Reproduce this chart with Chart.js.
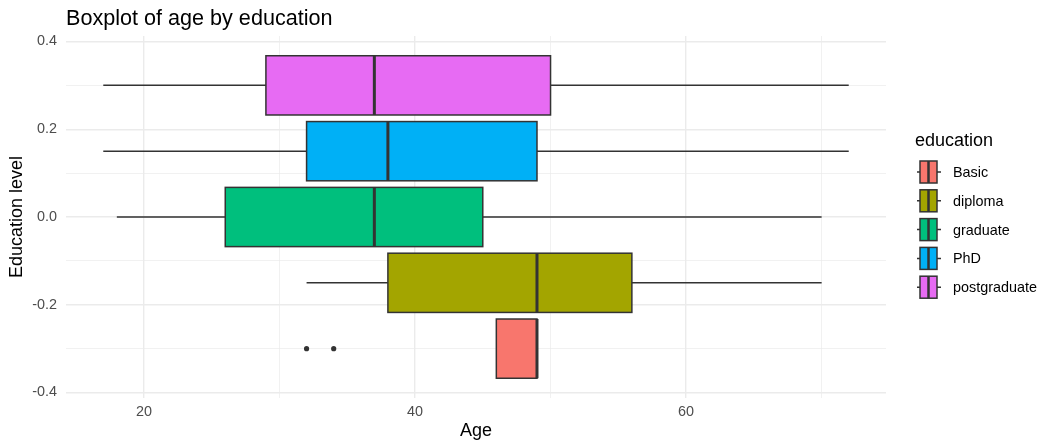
<!DOCTYPE html>
<html>
<head>
<meta charset="utf-8">
<script src="https://cdn.jsdelivr.net/npm/chart.js@4.4.1/dist/chart.umd.min.js"></script>
<style>
  html, body { margin: 0; padding: 0; background: #ffffff; }
  #wrap { width: 1044px; height: 442px; position: relative; }
</style>
</head>
<body>
<div id="wrap"><canvas id="boxChart"></canvas></div>
<script>
// data
var groups = ['Basic', 'diploma', 'graduate', 'PhD', 'postgraduate'];
var groupPos = [-0.3, -0.15, 0, 0.15, 0.3];
var whiskerLow = [46, 32, 18, 17, 17];
var q1 = [46, 38, 26, 32, 29];
var medians = [49, 49, 37, 38, 37];
var q3 = [49, 56, 45, 49, 50];
var whiskerHigh = [49, 70, 70, 72, 72];
var outlierAges = [32, 34];
var outlierGroups = ['Basic', 'Basic'];
var groupColors = ['#F8766D', '#A3A500', '#00BF7D', '#00B0F6', '#E76BF3'];

var xMajor = [20, 40, 60];
var xMinor = [30, 50, 70];
var yMajor = [-0.4, -0.2, 0, 0.2, 0.4];
var yMinor = [-0.3, -0.1, 0.1, 0.3];

var boxHalf = 0.0675; // half height of a box in y units
var FONT = "'Liberation Sans', Arial, sans-serif";
var DARK = '#333333';
var GRID = '#ebebeb';

function isIn(list, v) {
  for (var i = 0; i < list.length; i++) {
    if (Math.abs(list[i] - v) < 1e-9) return true;
  }
  return false;
}

function setTicks(major, minor) {
  return function (scale) {
    scale.ticks = major.concat(minor).sort(function (a, b) { return a - b; })
      .map(function (v) { return { value: v }; });
  };
}

// boxes and whiskers, drawn through the scales
var boxPlugin = {
  id: 'boxes',
  beforeDatasetsDraw: function (chart) {
    var ctx = chart.ctx;
    var xs = chart.scales.x, ys = chart.scales.y;
    var area = chart.chartArea;
    ctx.save();
    ctx.beginPath();
    ctx.rect(area.left, area.top, area.right - area.left, area.bottom - area.top);
    ctx.clip();
    for (var i = 0; i < groups.length; i++) {
      var yc = ys.getPixelForValue(groupPos[i]);
      var yt = ys.getPixelForValue(groupPos[i] + boxHalf);
      var yb = ys.getPixelForValue(groupPos[i] - boxHalf);
      var xw0 = xs.getPixelForValue(whiskerLow[i]);
      var xq1 = xs.getPixelForValue(q1[i]);
      var xmd = xs.getPixelForValue(medians[i]);
      var xq3 = xs.getPixelForValue(q3[i]);
      var xw1 = xs.getPixelForValue(whiskerHigh[i]);

      ctx.strokeStyle = DARK;
      ctx.lineWidth = 1.5;
      ctx.beginPath();
      ctx.moveTo(xw0, yc); ctx.lineTo(xq1, yc);
      ctx.moveTo(xq3, yc); ctx.lineTo(xw1, yc);
      ctx.stroke();

      ctx.fillStyle = groupColors[i];
      ctx.fillRect(xq1, yt, xq3 - xq1, yb - yt);
      ctx.strokeRect(xq1, yt, xq3 - xq1, yb - yt);

      ctx.lineWidth = 3;
      ctx.beginPath();
      ctx.moveTo(xmd, yt); ctx.lineTo(xmd, yb);
      ctx.stroke();
    }
    ctx.restore();
  },
  afterDraw: function (chart) {
    var ctx = chart.ctx;
    ctx.save();
    // title
    ctx.fillStyle = '#000000';
    ctx.font = '21.6px ' + FONT;
    ctx.textBaseline = 'alphabetic';
    ctx.textAlign = 'left';
    ctx.fillText('Boxplot of age by education', chart.chartArea.left, 25);

    // legend
    ctx.font = '18px ' + FONT;
    ctx.fillText('education', 915, 146);
    ctx.font = '14.4px ' + FONT;
    ctx.textBaseline = 'middle';
    for (var i = 0; i < groups.length; i++) {
      var cy = 172 + i * 28.8;
      var x0 = 920, x1 = 937;
      ctx.strokeStyle = DARK;
      ctx.lineWidth = 1.5;
      ctx.beginPath();
      ctx.moveTo(917, cy); ctx.lineTo(x0, cy);
      ctx.moveTo(x1, cy); ctx.lineTo(941, cy);
      ctx.stroke();
      ctx.fillStyle = groupColors[i];
      ctx.fillRect(x0, cy - 11, x1 - x0, 22);
      ctx.strokeRect(x0, cy - 11, x1 - x0, 22);
      ctx.lineWidth = 2.5;
      ctx.beginPath();
      ctx.moveTo((x0 + x1) / 2, cy - 11); ctx.lineTo((x0 + x1) / 2, cy + 11);
      ctx.stroke();
      ctx.fillStyle = '#000000';
      ctx.fillText(groups[i], 953, cy + 1);
    }
    ctx.restore();
  }
};

var outlierPoints = outlierAges.map(function (a, i) {
  return { x: a, y: groupPos[groups.indexOf(outlierGroups[i])] };
});

var ctx = document.getElementById('boxChart').getContext('2d');
var boxChart = new Chart(ctx, {
  type: 'scatter',
  data: {
    datasets: [{
      label: 'outliers',
      data: outlierPoints,
      pointRadius: 2.6,
      pointHoverRadius: 2.6,
      pointBackgroundColor: DARK,
      pointBorderColor: DARK,
      pointBorderWidth: 0
    }]
  },
  options: {
    responsive: true,
    maintainAspectRatio: false,
    animation: false,
    events: [],
    layout: { padding: { top: 36, right: 158, left: 0, bottom: 0 } },
    plugins: {
      legend: { display: false },
      tooltip: { enabled: false }
    },
    scales: {
      x: {
        type: 'linear',
        position: 'bottom',
        min: 14.25,
        max: 74.75,
        afterBuildTicks: setTicks(xMajor, xMinor),
        afterFit: function (scale) { scale.height = 44; },
        border: { display: false },
        grid: {
          color: GRID,
          drawTicks: false,
          lineWidth: function (c) { return c.tick && isIn(xMajor, c.tick.value) ? 1.4 : 0.7; }
        },
        ticks: {
          autoSkip: false,
          maxRotation: 0,
          padding: 5,
          color: '#4d4d4d',
          font: { family: FONT, size: 14.4 },
          callback: function (v) { return isIn(xMajor, v) ? String(v) : ''; }
        },
        title: {
          display: true,
          text: 'Age',
          color: '#000000',
          font: { family: FONT, size: 18 },
          padding: { top: 0, bottom: 0 }
        }
      },
      y: {
        type: 'linear',
        min: -0.4125,
        max: 0.4125,
        afterBuildTicks: setTicks(yMajor, yMinor),
        afterFit: function (scale) { scale.width = 66; },
        border: { display: false },
        grid: {
          color: GRID,
          drawTicks: false,
          lineWidth: function (c) { return c.tick && isIn(yMajor, c.tick.value) ? 1.4 : 0.7; }
        },
        ticks: {
          autoSkip: false,
          padding: 9,
          color: '#4d4d4d',
          font: { family: FONT, size: 14.4 },
          callback: function (v) { return isIn(yMajor, v) ? v.toFixed(1) : ''; }
        },
        title: {
          display: true,
          text: 'Education level',
          color: '#000000',
          font: { family: FONT, size: 18 },
          padding: { top: 6, bottom: 0 }
        }
      }
    }
  },
  plugins: [boxPlugin]
});
</script>
</body>
</html>
